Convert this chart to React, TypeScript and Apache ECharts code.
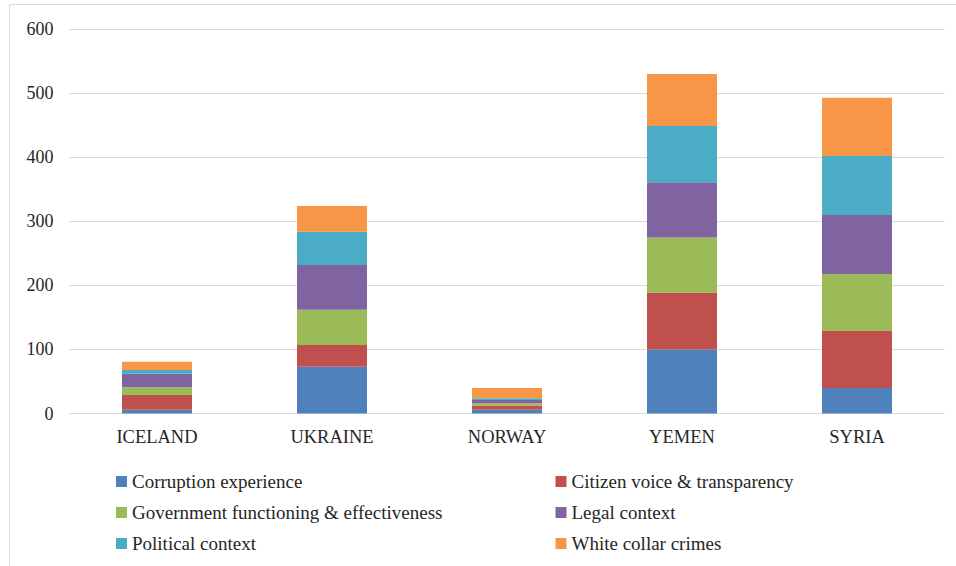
import React, { useEffect, useRef } from "react";
import * as echarts from "echarts";

const categories = ["ICELAND", "UKRAINE", "NORWAY", "YEMEN", "SYRIA"];
const corruptionExperience = [6, 73, 6, 100, 40];
const citizenVoice = [23, 34, 6, 89, 89];
const governmentFunctioning = [12, 55, 4, 86, 89];
const legalContext = [21, 70, 5, 86, 92];
const politicalContext = [6, 52, 3, 88, 92];
const whiteCollarCrimes = [13, 40, 16, 81, 91];
const yTicks = [0, 100, 200, 300, 400, 500, 600];

const seriesDefs = [
  { name: "Corruption experience", data: corruptionExperience, color: "#4f81bd" },
  { name: "Citizen voice & transparency", data: citizenVoice, color: "#c0504d" },
  { name: "Government functioning & effectiveness", data: governmentFunctioning, color: "#9bbb59" },
  { name: "Legal context", data: legalContext, color: "#8064a2" },
  { name: "Political context", data: politicalContext, color: "#4bacc6" },
  { name: "White collar crimes", data: whiteCollarCrimes, color: "#f79646" },
];

const FONT = "\"Times New Roman\", \"Liberation Serif\", Tinos, \"DejaVu Serif\", serif";

export default function App() {
  const ref = useRef<HTMLDivElement>(null);
  useEffect(() => {
    document.body.style.margin = "0";
    const chart = echarts.init(ref.current!, null, { renderer: "svg" });
    const legendText = { fontFamily: FONT, fontSize: 19, color: "#262626", lineHeight: 19 };
    const legendBase = {
      orient: "vertical",
      top: 472,
      padding: 0,
      icon: "rect",
      itemWidth: 11,
      itemHeight: 11,
      itemGap: 12,
      textStyle: legendText,
    };
    chart.setOption({
      animation: false,
      backgroundColor: "#ffffff",
      textStyle: { fontFamily: FONT },
      graphic: [
        {
          type: "rect",
          shape: { x: 9.5, y: 4.5, width: 980, height: 600 },
          style: { fill: "none", stroke: "#d9d9d9", lineWidth: 1 },
          silent: true,
        },
      ],
      grid: { left: 69.5, right: 11.5, top: 29.3, bottom: 566 - 413.5, containLabel: false },
      legend: [
        {
          ...legendBase,
          left: 116,
          data: [seriesDefs[0].name, seriesDefs[2].name, seriesDefs[4].name],
        },
        {
          ...legendBase,
          left: 555.5,
          data: [seriesDefs[1].name, seriesDefs[3].name, seriesDefs[5].name],
        },
      ],
      xAxis: {
        type: "category",
        data: categories,
        axisLine: { show: true, lineStyle: { color: "#d9d9d9", width: 1 } },
        axisTick: { show: false },
        axisLabel: { fontFamily: FONT, fontSize: 18.5, color: "#262626", margin: 14 },
      },
      yAxis: {
        type: "value",
        min: yTicks[0],
        max: yTicks[yTicks.length - 1],
        interval: 100,
        axisLine: { show: false },
        axisTick: { show: false },
        splitLine: { lineStyle: { color: "#d9d9d9", width: 1 } },
        axisLabel: { fontFamily: FONT, fontSize: 18, color: "#262626", margin: 16 },
      },
      series: seriesDefs.map((s) => ({
        name: s.name,
        type: "bar",
        stack: "total",
        data: s.data,
        barWidth: 70,
        itemStyle: { color: s.color },
      })),
    });
    return () => chart.dispose();
  }, []);
  return <div ref={ref} style={{ width: 956, height: 566 }} />;
}
